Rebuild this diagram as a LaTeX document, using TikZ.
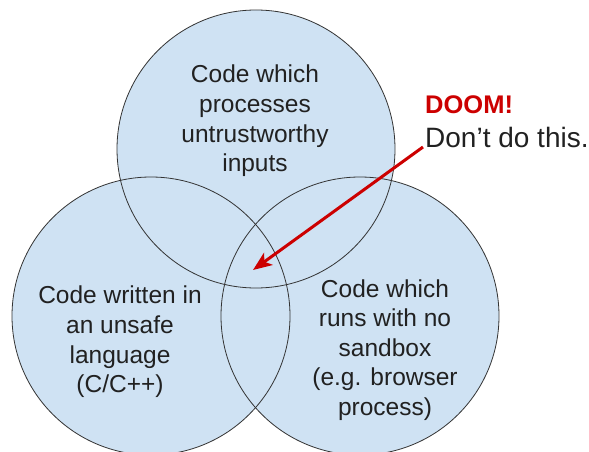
\documentclass[tikz,border=0pt]{standalone}
\usepackage{fontspec}
\setmainfont{Liberation Sans}
\usepackage{tikz}
\usetikzlibrary{positioning, arrows.meta}
\usepackage{xcolor}
\definecolor{vennblue}{HTML}{CFE2F3}
\definecolor{textgray}{HTML}{212121}
\definecolor{doomred}{HTML}{CC0000}
\tikzset{vennfill/.style={fill=vennblue},
         vennline/.style={draw=black!80, line width=0.8pt},
         vennlabel/.style={align=center, text=textgray, inner sep=0pt,
                           font=\fontsize{24.5}{29.6}\selectfont}}

\begin{document}
\begin{tikzpicture}[x=1pt, y=-1pt]
        \useasboundingbox (0,0) rectangle (589,452);

        % Circles
        \coordinate (untrusted) at (256,149);
        \coordinate (unsafe) at (151,316);
        \coordinate (nosandbox) at (360,316);
        \foreach \c in {untrusted, unsafe, nosandbox}
            \fill[vennfill] (\c) circle[radius=139pt];
        \foreach \c in {untrusted, unsafe, nosandbox}
            \draw[vennline] (\c) circle[radius=139pt];

        % Nodes
        \node[vennlabel] (inputs) at (255,121) {Code which\\processes\\untrustworthy\\inputs};
        \node[vennlabel] (cpp) at (120,342) {Code written in\\an unsafe\\language\\(C/C++)};
        \node[vennlabel] (browser) at (385,350) {Code which\\runs with no\\sandbox\\(e.g. browser\\process)};
        \node[anchor=base west, inner sep=0pt, text=doomred, font=\fontsize{25.5}{30}\selectfont\bfseries] (doom) at (425,113) {DOOM!};
        \node[anchor=base west, inner sep=0pt, text=textgray, font=\fontsize{28}{33}\selectfont] (dont) at (425,147) {Don’t do this.};
        \coordinate (center) at (253,270);

        % Edges
        \draw[-{Stealth[length=19pt, width=15pt, inset=5pt]}, doomred, line width=3pt] ([xshift=-2pt]dont.base west) -- (center);

        \end{tikzpicture}
\end{document}
